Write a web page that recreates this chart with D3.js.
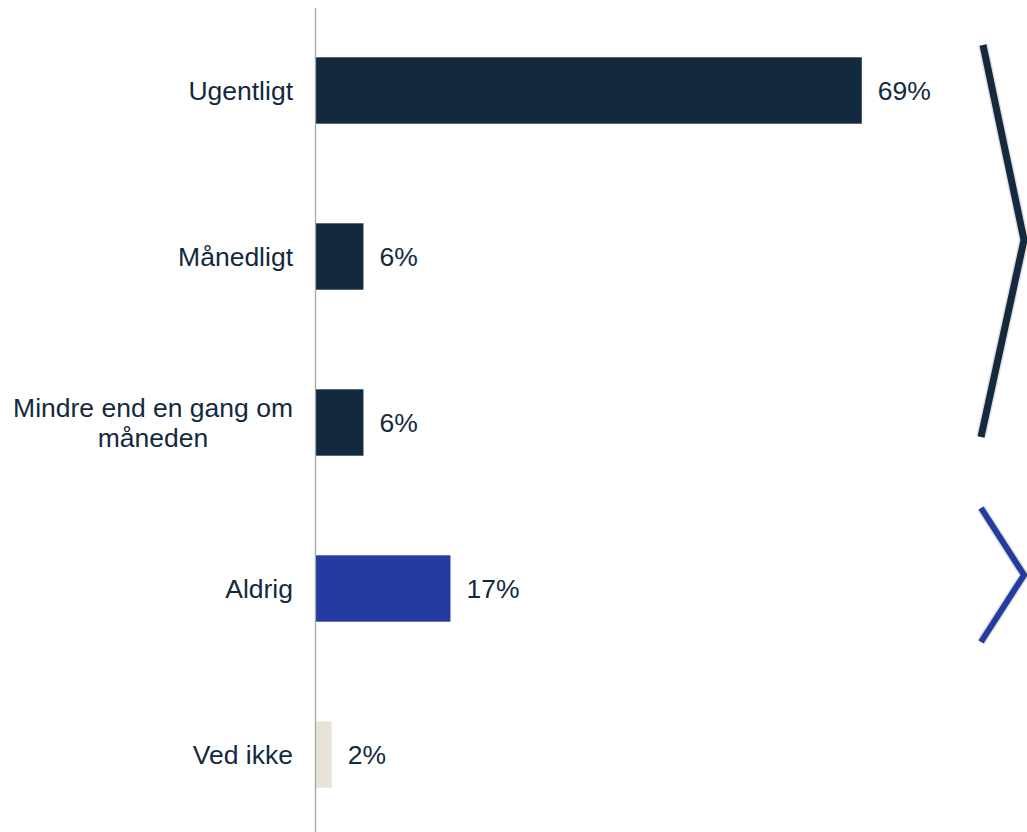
<!DOCTYPE html>
<html>
<head>
<meta charset="utf-8">
<script src="https://cdn.jsdelivr.net/npm/d3@7"></script>
<style>
  body { margin: 0; background: #fff; }
  text { font-family: "Liberation Sans", Arial, sans-serif; }
</style>
</head>
<body>
<svg width="1027" height="832"></svg>
<script>
const categories = ["Ugentligt", "Månedligt", "Mindre end en gang om\nmåneden", "Aldrig", "Ved ikke"];
const values = [69, 6, 6, 17, 2];
const colors = ["#132a3e", "#132a3e", "#132a3e", "#243ca0", "#e8e2d8"];

const width = 1027;
const height = 832;
const axisX = 316;
const fontSize = 26.5;

const svg = d3.select("svg");

const yScale = d3.scaleBand().domain(categories).range([7.5, 837.5]).paddingInner(0.6).paddingOuter(0.3);
const xScale = d3.scaleLinear().domain([0, 100]).range([axisX, axisX + 791]);

// bars
svg.selectAll("rect.bar")
  .data(categories)
  .enter()
  .append("rect")
  .attr("class", "bar")
  .attr("x", xScale(0))
  .attr("y", d => yScale(d))
  .attr("width", (d, i) => xScale(values[i]) - xScale(0))
  .attr("height", yScale.bandwidth())
  .attr("fill", (d, i) => colors[i]);

// axis line
svg.append("line")
  .attr("x1", axisX - 0.5).attr("x2", axisX - 0.5)
  .attr("y1", 8).attr("y2", height)
  .attr("stroke", "#a6a6a6").attr("stroke-width", 1.3);

// value labels
svg.selectAll("text.val")
  .data(categories)
  .enter()
  .append("text")
  .attr("class", "val")
  .attr("x", (d, i) => xScale(values[i]) + 16)
  .attr("y", d => yScale(d) + yScale.bandwidth() / 2)
  .attr("dy", "0.35em")
  .attr("font-size", fontSize)
  .attr("fill", "#132a3e")
  .text((d, i) => values[i] + "%");

// category labels (multi-line centred block, right aligned)
categories.forEach(c => {
  const lines = c.split("\n");
  const cy = yScale(c) + yScale.bandwidth() / 2;
  const g = svg.append("text")
    .attr("font-size", fontSize)
    .attr("fill", "#132a3e")
    .attr("text-anchor", "middle");
  const lh = 30;
  lines.forEach((l, k) => {
    g.append("tspan")
      .attr("y", cy + (k - (lines.length - 1) / 2) * lh)
      .attr("dy", "0.35em")
      .text(l);
  });
  let maxW = 0;
  g.selectAll("tspan").each(function () {
    maxW = Math.max(maxW, this.getComputedTextLength());
  });
  g.selectAll("tspan").attr("x", 293 - maxW / 2);
});

// brackets
const line = d3.line();
const brackets = [
  { pts: [[983, 45], [1024, 240], [981, 437]], color: "#132a3e", w: 7 },
  { pts: [[981, 508], [1024, 575], [981, 642]], color: "#243ca0", w: 6 }
];
brackets.forEach(b => {
  svg.append("path").attr("d", line(b.pts)).attr("fill", "none")
    .attr("stroke", "#e0e0e0").attr("stroke-width", b.w + 3);
  svg.append("path").attr("d", line(b.pts)).attr("fill", "none")
    .attr("stroke", b.color).attr("stroke-width", b.w);
});
</script>
</body>
</html>
